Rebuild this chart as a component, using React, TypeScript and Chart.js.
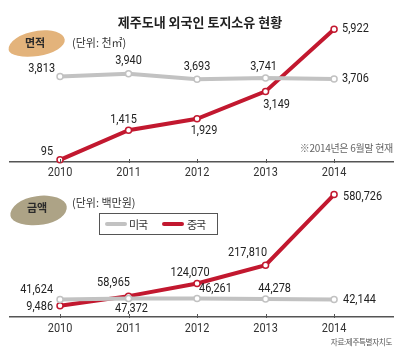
import React, { useEffect, useRef } from 'react';
import { Chart, registerables } from 'chart.js';
Chart.register(...registerables);

// ---- data ----
const years = [2010, 2011, 2012, 2013, 2014];
const seriesNames = ['미국', '중국'];
const areaUS = [3813, 3940, 3693, 3741, 3706];
const areaCN = [95, 1415, 1929, 3149, 5922];
const amountUS = [41624, 47372, 46261, 44278, 42144];
const amountCN = [9486, 58965, 124070, 217810, 580726];
const titleText = '제주도내 외국인 토지소유 현황';
const areaBadge = '면적';
const areaUnit = '(단위: 천㎡)';
const amountBadge = '금액';
const amountUnit = '(단위: 백만원)';
const noteText = '※2014년은 6월말 현재';
const sourceText = '자료:제주특별자치도';

// ---- styles ----
const GREY = '#c2c2c2';
const RED = '#c2182f';
const NUM_FONT = "Roboto, 'Noto Sans', sans-serif";
const KR_FONT = "'Noto Sans CJK KR', sans-serif";
const SQUEEZE = 0.84;

type Place = [number, number, CanvasTextAlign];
const areaUSPlace: Place[] = [[-5, -8, 'right'], [0, -13, 'center'], [0, -12, 'center'], [-2, -11, 'center'], [8, 0, 'left']];
const areaCNPlace: Place[] = [[-7, -8, 'right'], [-5, -11, 'center'], [7, 12, 'center'], [11, 13, 'center'], [8, 0, 'left']];
const amountUSPlace: Place[] = [[-7, -10, 'right'], [3, 10, 'center'], [2, -10, 'left'], [9, -10, 'center'], [9, 0, 'left']];
const amountCNPlace: Place[] = [[-7, 1, 'right'], [-15, -13, 'center'], [-7, -11, 'center'], [-18, -12, 'center'], [9, 2, 'left']];

function condensedText(ctx: CanvasRenderingContext2D, text: string, x: number, y: number, align: CanvasTextAlign) {
  ctx.save();
  ctx.translate(x, y);
  ctx.scale(SQUEEZE, 1);
  ctx.textAlign = align;
  ctx.fillText(text, 0, 0);
  ctx.restore();
}

const pointLabelPlugin = {
  id: 'pointLabels',
  afterDatasetsDraw(chart: any, _args: any, opts: any) {
    const places: Place[][] = opts.places || [];
    const ctx = chart.ctx;
    ctx.save();
    ctx.font = `13px ${NUM_FONT}`;
    ctx.fillStyle = '#222';
    ctx.textBaseline = 'middle';
    chart.data.datasets.forEach((ds: any, di: number) => {
      const meta = chart.getDatasetMeta(di);
      meta.data.forEach((pt: any, i: number) => {
        const p = (places[di] || [])[i] || [0, -10, 'center'];
        const v = ds.data[i].y as number;
        condensedText(ctx, v.toLocaleString('en-US'), pt.x + p[0], pt.y + p[1], p[2]);
      });
    });
    ctx.restore();
  },
};

const tickMarkPlugin = {
  id: 'tickMarks',
  afterDraw(chart: any, _args: any, opts: any) {
    const sx = chart.scales.x;
    const ctx = chart.ctx;
    const b = chart.chartArea.bottom;
    ctx.save();
    ctx.strokeStyle = '#555';
    ctx.lineWidth = 1;
    ctx.fillStyle = '#333';
    ctx.font = `13px ${NUM_FONT}`;
    ctx.textBaseline = 'middle';
    sx.ticks.forEach((t: any) => {
      const px = sx.getPixelForValue(t.value);
      const x = Math.round(px) + 0.5;
      ctx.beginPath();
      ctx.moveTo(x, b - 3);
      ctx.lineTo(x, b + 1);
      ctx.stroke();
      condensedText(ctx, String(t.value), px, b + opts.labelOffset, 'center');
    });
    ctx.restore();
  },
};

function makeConfig(us: number[], cn: number[], yMin: number, yMax: number, padTop: number, axisH: number, labelOffset: number, places: Place[][]): any {
  const mk = (vals: number[], color: string, name: string) => ({
    label: name,
    data: years.map((y, i) => ({ x: y, y: vals[i] })),
    borderColor: color,
    borderWidth: 4,
    backgroundColor: color,
    pointRadius: 3,
    pointBorderWidth: 1.5,
    pointBackgroundColor: '#fff',
    pointBorderColor: color,
    tension: 0,
    clip: false,
  });
  return {
    type: 'line',
    data: { datasets: [mk(us, GREY, seriesNames[0]), mk(cn, RED, seriesNames[1])] },
    options: {
      animation: false,
      responsive: false,
      events: [],
      layout: { padding: { top: padTop, left: 10, right: 7, bottom: 0 } },
      plugins: {
        legend: { display: false },
        tooltip: { enabled: false },
        pointLabels: { places },
        tickMarks: { labelOffset },
      },
      scales: {
        x: {
          type: 'linear',
          min: 2009.27,
          max: 2014.86,
          border: { display: true, color: '#555', width: 1.5 },
          grid: { display: false },
          ticks: {
            stepSize: 1,
            includeBounds: false,
            color: 'rgba(0,0,0,0)',
            font: { family: NUM_FONT, size: 13 },
            callback: (v: any) => String(v),
          },
          afterFit: (s: any) => { s.height = axisH; },
        },
        y: { display: false, min: yMin, max: yMax },
      },
    },
    plugins: [pointLabelPlugin, tickMarkPlugin],
  };
}

function LineCanvas({ cfg, width, height }: { cfg: () => any; width: number; height: number }) {
  const ref = useRef<HTMLCanvasElement>(null);
  useEffect(() => {
    const c = new Chart(ref.current as HTMLCanvasElement, cfg());
    return () => c.destroy();
  }, []);
  return <canvas ref={ref} width={width} height={height} style={{ display: 'block', width, height }} />;
}

const abs = (s: React.CSSProperties): React.CSSProperties => ({ position: 'absolute', ...s });

export default function App() {
  return (
    <div style={{ position: 'absolute', left: 0, top: 0, width: 400, height: 353, background: '#fff', overflow: 'hidden', fontFamily: KR_FONT, color: '#222' }}>
      <div style={abs({ left: 0, top: 0 })}>
        <LineCanvas width={400} height={185} cfg={() => makeConfig(areaUS, areaCN, 0, 6600, 14, 23, 11, [areaUSPlace, areaCNPlace])} />
      </div>
      <div style={abs({ left: 0, top: 175 })}>
        <LineCanvas width={400} height={178} cfg={() => makeConfig(amountUS, amountCN, -48100, 652700, 5, 36, 12, [amountUSPlace, amountCNPlace])} />
      </div>

      <div style={abs({ left: 0, top: 14, width: 400, textAlign: 'center', fontSize: 13, lineHeight: '16px', fontWeight: 700, color: '#222' })}>{titleText}</div>

      {/* area badge */}
      <div style={abs({ left: 8, top: 31, width: 57, height: 25, background: '#e3b37b', borderRadius: '55% 45% 50% 50% / 60% 50% 50% 40%', transform: 'rotate(-8deg)' })} />
      <div style={abs({ left: 8, top: 34, width: 54, textAlign: 'center', fontSize: 11, lineHeight: '16px', fontWeight: 700, color: '#2a2a2a' })}>{areaBadge}</div>
      <div style={abs({ left: 72, top: 34, fontSize: 11, lineHeight: '16px', color: '#333', whiteSpace: 'nowrap' })}>{areaUnit}</div>

      <div style={abs({ right: 7, top: 141, fontSize: 10, lineHeight: '14px', color: '#666', whiteSpace: 'nowrap', letterSpacing: -0.3 })}>{noteText}</div>

      {/* amount badge */}
      <div style={abs({ left: 10, top: 196, width: 57, height: 29, background: '#ada386', borderRadius: '50% 50% 45% 55% / 55% 50% 50% 45%', transform: 'rotate(-8deg)' })} />
      <div style={abs({ left: 10, top: 199, width: 54, textAlign: 'center', fontSize: 11, lineHeight: '16px', fontWeight: 700, color: '#2a2a2a' })}>{amountBadge}</div>
      <div style={abs({ left: 72, top: 194, fontSize: 11, lineHeight: '16px', color: '#333', whiteSpace: 'nowrap' })}>{amountUnit}</div>

      {/* legend */}
      <div style={abs({ left: 99, top: 213, width: 117, height: 20, border: '1.5px solid #555', background: '#fff' })}>
        <div style={abs({ left: 5, top: 8, width: 22, height: 4, borderRadius: 2, background: GREY })} />
        <div style={abs({ left: 29, top: 2, fontSize: 11, lineHeight: '16px', letterSpacing: -1, color: '#333', whiteSpace: 'nowrap' })}>{seriesNames[0]}</div>
        <div style={abs({ left: 62, top: 8, width: 22, height: 4, borderRadius: 2, background: RED })} />
        <div style={abs({ left: 87, top: 2, fontSize: 11, lineHeight: '16px', letterSpacing: -1, color: '#333', whiteSpace: 'nowrap' })}>{seriesNames[1]}</div>
      </div>

      <div style={abs({ right: 8, top: 336, fontSize: 7.5, lineHeight: '11px', color: '#555', whiteSpace: 'nowrap', letterSpacing: -0.3 })}>{sourceText}</div>
    </div>
  );
}
